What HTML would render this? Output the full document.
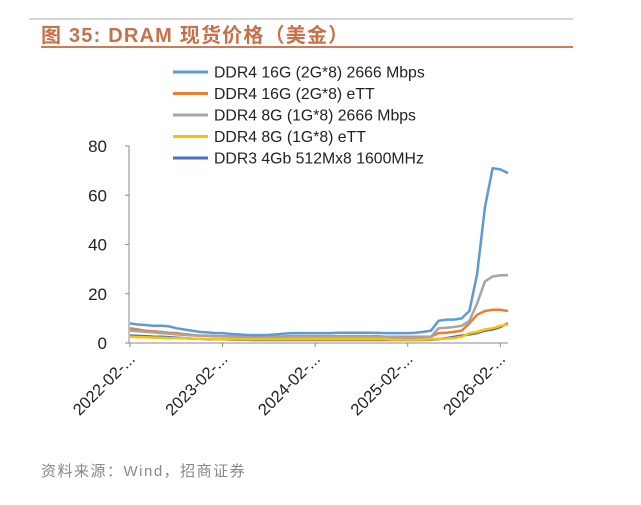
<!DOCTYPE html>
<html><head><meta charset="utf-8"><style>
body{margin:0;width:641px;height:500px;background:#fff;overflow:hidden;font-family:"Liberation Sans","Noto Sans CJK SC",sans-serif}
</style></head><body>
<svg width="641" height="500" xmlns="http://www.w3.org/2000/svg">
<line x1="29" y1="19" x2="573" y2="19" stroke="#c8c8c8" stroke-width="1.5"/>
<text x="41" y="42" font-size="20" font-weight="bold" fill="#c8704a" letter-spacing="1.2" font-family="Liberation Sans, Noto Sans CJK SC, sans-serif">图 35:  DRAM 现货价格（美金）</text>
<line x1="41" y1="47" x2="573" y2="47" stroke="#d07a55" stroke-width="2"/>
<g id="plot"></g>
<text x="41" y="476" font-size="15" fill="#888" letter-spacing="1.5" font-family="Liberation Sans, Noto Sans CJK SC, sans-serif">资料来源：Wind，招商证券</text>
</svg>
<script>
const seriesNames=["DDR4 16G (2G*8) 2666 Mbps","DDR4 16G (2G*8) eTT","DDR4 8G (1G*8) 2666 Mbps","DDR4 8G (1G*8) eTT","DDR3 4Gb 512Mx8 1600MHz"];
const seriesColors=["#5b9bd5","#ed7d31","#a5a5a5","#ffc000","#4472c4"];
const yTicks=[0,20,40,60,80];
const xTickLabels=["2022-02-...","2023-02-...","2024-02-...","2025-02-...","2026-02-..."];
const xTickIdx=[0,12,24,36,48];
const ddr4_16g_2666=[8,7.5,7.3,7,7,6.8,6,5.5,5,4.5,4.3,4,4,3.7,3.5,3.3,3.2,3.2,3.3,3.5,3.8,4,4,4,4,4,4,4.2,4.2,4.2,4.2,4.2,4.1,4,4,4,4,4.2,4.5,5,9,9.5,9.5,10,13,28,55,71,70.5,69];
const ddr4_16g_ett=[6,5.5,5,4.8,4.5,4.2,4,3.6,3.3,3,3,2.8,2.8,2.7,2.6,2.5,2.5,2.5,2.5,2.6,2.7,2.8,2.8,2.8,2.8,2.8,2.8,2.8,2.8,2.8,2.8,2.8,2.8,2.6,2.5,2.5,2.5,2.5,2.5,2.6,4,4.2,4.5,5,8,11.5,13,13.5,13.5,13];
const ddr4_8g_2666=[5,4.8,4.5,4.3,4,3.8,3.5,3.3,3.1,3,3,2.8,2.7,2.6,2.5,2.5,2.5,2.5,2.5,2.5,2.5,2.6,2.6,2.6,2.6,2.6,2.6,2.6,2.6,2.6,2.6,2.6,2.6,2.5,2.3,2.2,2.2,2.2,2.3,2.5,6,6.2,6.5,7,9,16,25,27,27.5,27.5];
const ddr4_8g_ett=[2.5,2.4,2.3,2.2,2.1,2,2,1.9,1.8,1.7,1.7,1.6,1.6,1.5,1.5,1.5,1.5,1.5,1.5,1.5,1.5,1.5,1.5,1.5,1.5,1.5,1.5,1.5,1.5,1.5,1.5,1.5,1.5,1.5,1.4,1.4,1.4,1.4,1.4,1.5,1.7,1.8,2,2.5,4,4.5,5.5,6,7,7.5];
const ddr3_4gb=[3,2.9,2.8,2.6,2.5,2.4,2.2,2,1.8,1.7,1.6,1.5,1.5,1.4,1.3,1.3,1.2,1.2,1.2,1.2,1.2,1.2,1.2,1.2,1.2,1.2,1.2,1.2,1.2,1.2,1.2,1.2,1.2,1.2,1.2,1.2,1.2,1.2,1.2,1.3,1.6,2,2.5,3,3.5,4,5,5.5,6.5,8];
const allSeries=[ddr4_16g_2666,ddr4_16g_ett,ddr4_8g_2666,ddr4_8g_ett,ddr3_4gb];
const NS="http://www.w3.org/2000/svg";
const g=document.getElementById('plot');
const x0=129,x1=508,y0=343,y1=146,ymax=80,nPts=50;
function sx(i){return x0+1+i*(x1-x0-1)/(nPts-1);}
function sy(v){return y0-(v/ymax)*(y0-y1);}
function mk(t,a){const e=document.createElementNS(NS,t);for(const k in a)e.setAttribute(k,a[k]);g.appendChild(e);return e;}
let ax=mk('line',{x1:x0,y1:sy(80),x2:x0,y2:y0,stroke:'#888','stroke-width':1});


let bx=mk('line',{x1:x0,y1:y0,x2:x1,y2:y0,stroke:'#888','stroke-width':1});


yTicks.forEach(v=>{
  let t=mk('line',{x1:x0-4,y1:sy(v),x2:x0,y2:sy(v),stroke:'#888'});
  
  
  let l=mk('text',{x:x0-22,y:sy(v)+6,'font-size':17,'text-anchor':'end',fill:'#222'});
  l.textContent=v;
  
  
});
xTickIdx.forEach((idx,k)=>{
  const x=sx(idx);
  let t=mk('line',{x1:x,y1:y0,x2:x,y2:y0+4,stroke:'#888'});
  
  
  let l=mk('text',{x:x+6,y:y0+17,'font-size':16.5,'text-anchor':'end',fill:'#222',transform:`rotate(-45 ${x+6} ${y0+17})`});
  l.textContent=xTickLabels[k];
  
  
});
const order=[4,3,1,2,0];
order.forEach(s=>{
  const d=allSeries[s].map((v,i)=>(i?'L':'M')+sx(i).toFixed(1)+','+sy(v).toFixed(1)).join('');
  let p=mk('path',{d:d,fill:'none',stroke:seriesColors[s],'stroke-width':2.5,'stroke-linejoin':'round'});
  
  
});
seriesNames.forEach((n,s)=>{
  const y=72+s*21.5;
  let l=mk('line',{x1:173,y1:y,x2:208,y2:y,stroke:seriesColors[s],'stroke-width':3});
  
  
  let t=mk('text',{x:214,y:y+5.5,'font-size':15.8,fill:'#222'});
  t.textContent=n;
  
  
});
</script>
</body></html>
